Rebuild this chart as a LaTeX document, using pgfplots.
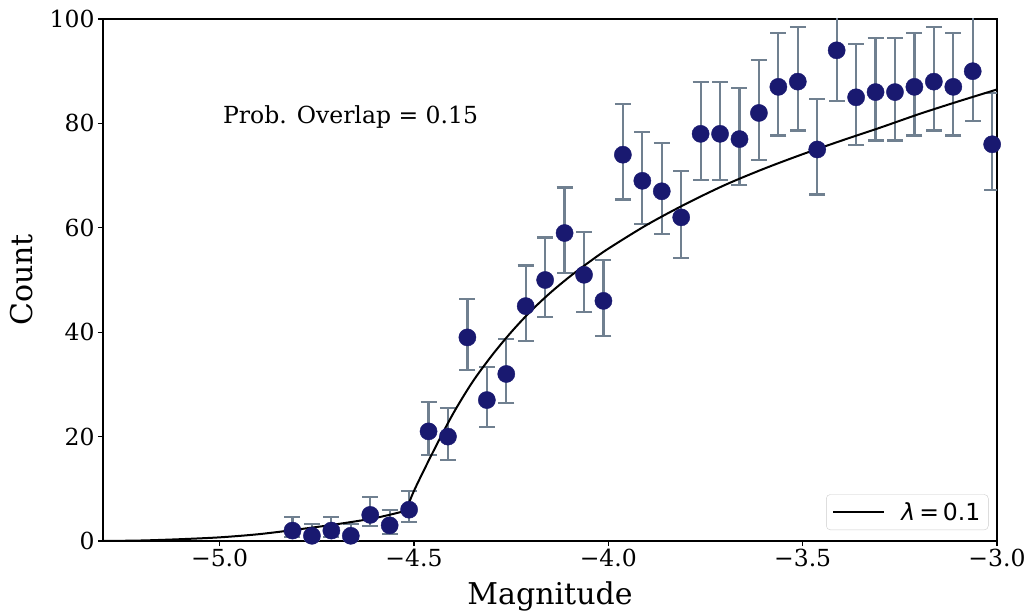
\documentclass[border=0pt]{standalone}
\usepackage{fontspec}
\setmainfont{DejaVu Serif}
\newfontfamily\dvs{DejaVu Sans}
\usepackage{pgfplots}
\pgfplotsset{compat=1.18}
\usepackage{pgfplotstable}
\definecolor{navy}{HTML}{191970}
\definecolor{slate}{HTML}{708090}
\definecolor{legbord}{HTML}{CCCCCC}

\pgfplotstableread{
x y ep em
-4.8125 2 2.658 1.288
-4.7625 1 2.323 0.829
-4.7125 2 2.658 1.288
-4.6625 1 2.323 0.829
-4.6125 5 3.398 2.154
-4.5625 3 2.937 1.628
-4.5125 6 3.598 2.375
-4.4625 21 5.664 4.542
-4.4125 20 5.555 4.431
-4.3625 39 7.305 6.216
-4.3125 27 6.268 5.161
-4.2625 32 6.723 5.624
-4.2125 45 7.764 6.681
-4.1625 50 8.124 7.044
-4.1125 59 8.730 7.657
-4.0625 51 8.194 7.114
-4.0125 46 7.837 6.756
-3.9625 74 9.646 8.58
-3.9125 69 9.352 8.28
-3.8625 67 9.231 8.16
-3.8125 62 8.922 7.85
-3.7625 78 9.874 8.81
-3.7125 78 9.874 8.81
-3.6625 77 9.818 8.76
-3.6125 82 10.097 9.05
-3.5625 87 10.368 9.32
-3.5125 88 10.421 9.37
-3.4625 75 9.703 8.64
-3.4125 94 10.734 9.68
-3.3625 85 10.260 9.21
-3.3125 86 10.314 9.27
-3.2625 86 10.314 9.27
-3.2125 87 10.368 9.32
-3.1625 88 10.421 9.37
-3.1125 87 10.368 9.32
-3.0625 90 10.526 9.48
-3.0125 76 9.761 8.70
}\data

\pgfplotstableread{
x y
-5.30 0.0
-5.20 0.1
-5.10 0.35
-5.00 0.7
-4.90 1.3
-4.80 2.2
-4.70 3.2
-4.60 4.4
-4.52 5.8
}\curveA

\pgfplotstableread{
x y
-4.52 5.8
-4.50 9.6
-4.45 17.2
-4.40 24.3
-4.35 30.4
-4.30 35.5
-4.25 40.0
-4.20 44.0
-4.15 47.5
-4.10 50.6
-4.05 53.4
-4.00 56.0
-3.90 60.6
-3.80 64.6
-3.70 68.2
-3.60 71.3
-3.50 74.1
-3.40 76.7
-3.30 79.2
-3.20 81.8
-3.10 84.2
-3.00 86.5
}\curveB

\begin{document}
\begin{tikzpicture}
\begin{axis}[
  name=ax,
  width=894pt, height=522pt, scale only axis,
  xmin=-5.3, xmax=-3.0, ymin=0, ymax=100,
  xtick={-5,-4.5,-4,-3.5,-3},
  xticklabels={−5.0,−4.5,−4.0,−3.5,−3.0},
  ytick={0,20,40,60,80,100},
  yticklabels={0,20,40,60,80,100},
  tick align=outside, tick pos=left,
  major tick length=5pt,
  tick style={black, line width=1.1pt},
  axis line style={line width=1.1pt},
  ticklabel style={font=\fontsize{23.5}{28}\selectfont},
  label style={font=\fontsize{30}{36}\selectfont},
  xlabel={Magnitude}, ylabel={Count},
  xlabel shift=8pt, ylabel shift=10pt,
  legend style={at={(0.9905,0.021)}, anchor=south east,
    draw=legbord, rounded corners=4pt, fill=white, fill opacity=0.8, text opacity=1,
    font=\fontsize{23.5}{28}\selectfont, inner xsep=6pt, inner ysep=6pt},
  legend cell align=left,
  legend image code/.code={\draw[#1] (0pt,0pt) -- (51pt,0pt);},
]
\addplot[only marks, mark=none, forget plot,
  error bars/.cd, y dir=both, y explicit, error mark=|,
  error bar style={color=slate, line width=2.2pt},
  error mark options={color=slate, line width=2.2pt, mark size=8pt}]
  table[x=x, y=y, y error plus=ep, y error minus=em]{\data};
\addplot[only marks, mark=*, mark size=8.6pt, color=navy, forget plot]
  table[x=x, y=y]{\data};
\addplot[black, line width=2pt, smooth, forget plot] table[x=x,y=y]{\curveA};
\addplot[black, line width=2pt, smooth] table[x=x,y=y]{\curveB};
\addlegendentry{\hspace*{14pt}{\dvs\itshape λ}\hspace{4pt}{\dvs=}\hspace{4pt}{\dvs 0.1}}
\node[anchor=base west, font=\fontsize{23.5}{28}\selectfont] at (axis cs:-5.0,80) {Prob. Overlap = 0.15};
\end{axis}
\pgfresetboundingbox
\path[use as bounding box] ([xshift=-103pt,yshift=-71pt]ax.south west) rectangle ([xshift=32pt,yshift=19pt]ax.north east);
\end{tikzpicture}
\end{document}
